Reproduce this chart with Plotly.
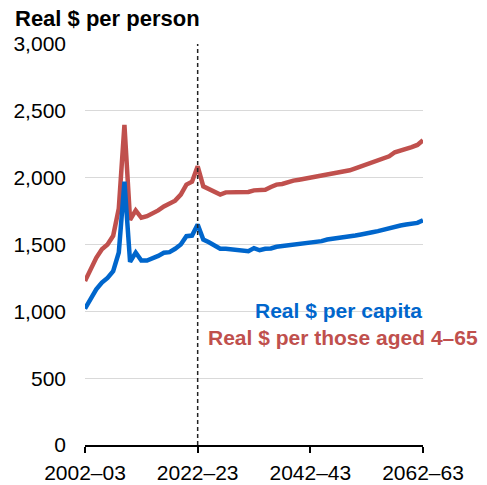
import plotly.graph_objects as go

years = [f"{y}\u2013{(y + 1) % 100:02d}" for y in range(2002, 2063)]

per_capita = [1020, 1090, 1165, 1215, 1250, 1300, 1440, 1970, 1370, 1440,
              1380, 1380, 1395, 1415, 1438, 1443, 1468, 1500, 1562, 1567,
              1650, 1537, 1517, 1488, 1468, 1468, 1463, 1452, 1450, 1450,
              1473, 1457, 1468, 1470, 1483, 1488, 1500, 1505, 1505, 1512,
              1517, 1517, 1525, 1537, 1542, 1550, 1550, 1562, 1567, 1575,
              1587, 1592, 1600, 1612, 1622, 1632, 1642, 1649, 1652, 1662,
              1682]

per_aged_4_65 = [1226, 1310, 1400, 1465, 1500, 1565, 1770, 2395, 1685, 1755,
                 1700, 1712, 1730, 1755, 1785, 1803, 1828, 1873, 1948, 1970,
                 2085, 1935, 1915, 1898, 1873, 1890, 1890, 1890, 1890, 1893,
                 1905, 1908, 1910, 1930, 1948, 1953, 1968, 1978, 1985, 1993,
                 1998, 2005, 2010, 2017, 2030, 2040, 2045, 2055, 2070, 2085,
                 2097, 2115, 2127, 2140, 2160, 2190, 2201, 2210, 2228, 2245,
                 2280]

tick_labels = ["2002\u201303", "2022\u201323", "2042\u201343", "2062\u201363"]
y_ticks = [0, 500, 1000, 1500, 2000, 2500, 3000]
marker_year = "2022\u201323"

BLUE = "#0066CC"
RED = "#C0504D"
FONT = "Liberation Sans, Arial, sans-serif"

W, H = 487, 485
PL, PR, PT, PB = 85, 423, 44, 445

fig = go.Figure()
fig.add_trace(go.Scatter(x=years, y=per_aged_4_65, mode="lines",
                         line=dict(color=RED, width=4.5), showlegend=False))
fig.add_trace(go.Scatter(x=years, y=per_capita, mode="lines",
                         line=dict(color=BLUE, width=4.5), showlegend=False))

fig.add_shape(type="line", xref="x", yref="paper",
              x0=years.index(marker_year), x1=years.index(marker_year),
              y0=0, y1=1, line=dict(color="#222222", width=1.5, dash="4px,3px"))

pw, ph = PR - PL, PB - PT


def px(x):
    return (x - PL) / pw


def py(y):
    return (PB - y) / ph


fig.update_layout(
    width=W, height=H, autosize=False,
    margin=dict(l=PL, r=W - PR, t=PT, b=H - PB, pad=0),
    paper_bgcolor="white", plot_bgcolor="white",
    font=dict(family=FONT, size=21, color="black"),
    xaxis=dict(type="category", range=[0, len(years) - 1], automargin=False,
               tickmode="array", tickvals=tick_labels, ticktext=tick_labels,
               showgrid=False, showline=True, linecolor="black", linewidth=1.5,
               ticks="outside", ticklen=6, tickwidth=1.5, tickcolor="black",
               ticklabelstandoff=2, tickfont=dict(size=21)),
    yaxis=dict(range=[0, 3000], tickvals=y_ticks, tickformat=",d", automargin=False,
               showgrid=True, gridcolor="#D9D9D9", gridwidth=1.3,
               zeroline=False, showline=False, ticks="",
               ticklabelstandoff=18, tickfont=dict(size=21)),
    annotations=[
        dict(text="<b>Real $ per person</b>", xref="paper", yref="paper",
             x=px(13), y=py(18), xanchor="left", yanchor="middle",
             showarrow=False, font=dict(size=22, color="black")),
        dict(text="<b>Real $ per capita</b>", xref="paper", yref="paper",
             x=px(338), y=py(310), xanchor="center", yanchor="middle",
             showarrow=False, font=dict(size=21, color=BLUE)),
        dict(text="<b>Real $ per those aged 4\u201365</b>", xref="paper", yref="paper",
             x=px(343), y=py(337), xanchor="center", yanchor="middle",
             showarrow=False, font=dict(size=21, color=RED)),
    ],
)

fig.write_html("out.html", config={"displayModeBar": False},
               post_script="document.body.style.margin='0';document.body.style.padding='0';")
